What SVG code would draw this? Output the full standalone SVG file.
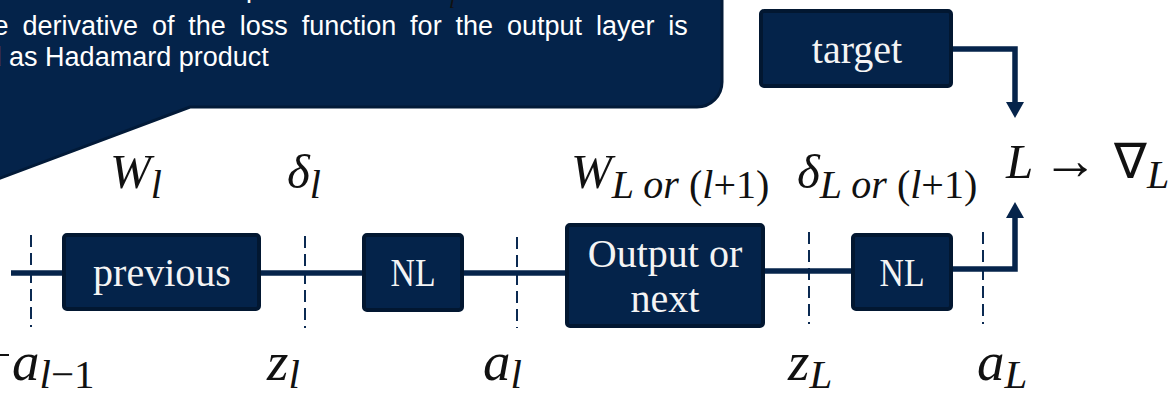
<svg xmlns="http://www.w3.org/2000/svg" width="1173" height="394" viewBox="0 0 1173 394">
  <style>
    .box { fill: #04234a; stroke: #021731; stroke-width: 4; }
    .boxtext { font-family: "Liberation Serif", serif; font-size: 40px; fill: #f4f4f4; text-anchor: middle; }
    .wire { fill: none; stroke: #06244b; stroke-width: 5.5; }
    .tick { fill: none; stroke: #0b2a52; stroke-width: 2; stroke-dasharray: 12 6; }
    .note { font-family: "Liberation Sans", Arial, sans-serif; font-size: 27px; fill: #ffffff; }
    .mi { font-family: "Liberation Serif", serif; font-style: italic; fill: #111111; }
    .up { font-style: normal; }
    .big { font-size: 49px; }
    .sub { font-size: 40px; }
    .low { font-size: 55px; }
    .lowsub { font-size: 41px; }
  </style>
  <defs>
    <marker id="arrow" markerUnits="userSpaceOnUse" viewBox="0 0 16 18" markerWidth="16" markerHeight="18" refX="1" refY="9" orient="auto">
      <path d="M0,0 L16,9 L0,18 z" fill="#06244b"/>
    </marker>
  </defs>

  <rect width="1173" height="394" fill="#ffffff"/>

  <!-- callout with pointer tail -->
  <g id="callout">
    <path d="M-10,-10 H722 V82 A25,25 0 0 1 697,107 H190 L-10,182 Z" fill="#04234a" stroke="#021a38" stroke-width="3"/>
    <text class="note" x="246" y="-3">p</text>
    <text class="mi" x="449" y="8" font-size="22" fill="#ffffff">l</text>
    <text class="note" x="-38" y="35" word-spacing="6.4">The derivative of the loss function for the output layer is</text>
    <text class="note" x="-87" y="66">defined as Hadamard product</text>
  </g>

  <!-- layer boundaries -->
  <g id="ticks">
    <line class="tick" x1="31" y1="235" x2="31" y2="327"/>
    <line class="tick" x1="305" y1="236" x2="305" y2="328"/>
    <line class="tick" x1="517" y1="237" x2="517" y2="328"/>
    <line class="tick" x1="809" y1="232" x2="809" y2="324"/>
    <line class="tick" x1="983" y1="232" x2="983" y2="324"/>
  </g>

  <!-- connectors -->
  <g id="connectors">
    <path class="wire" d="M11,273 H62"/>
    <path class="wire" d="M261,273 H362"/>
    <path class="wire" d="M464,273 H565"/>
    <path class="wire" d="M765,271 H851"/>
    <path class="wire" d="M953,269 H1015 V217" stroke-linejoin="miter" marker-end="url(#arrow)"/>
    <path class="wire" d="M953,49 H1015 V103" stroke-linejoin="miter" marker-end="url(#arrow)"/>
  </g>

  <g id="previous">
    <rect class="box" x="64" y="235" width="195" height="74" rx="3"/>
    <text class="boxtext" x="162" y="286">previous</text>
  </g>
  <g id="nl1">
    <rect class="box" x="364" y="235" width="98" height="75" rx="3"/>
    <text class="boxtext" x="413" y="286" textLength="45" lengthAdjust="spacingAndGlyphs">NL</text>
  </g>
  <g id="output">
    <rect class="box" x="567" y="225" width="196" height="101" rx="3"/>
    <text class="boxtext" x="665" y="267">Output or</text>
    <text class="boxtext" x="665" y="312">next</text>
  </g>
  <g id="nl2">
    <rect class="box" x="853" y="235" width="98" height="74" rx="3"/>
    <text class="boxtext" x="902" y="286" textLength="45" lengthAdjust="spacingAndGlyphs">NL</text>
  </g>
  <g id="target">
    <rect class="box" x="761" y="11" width="190" height="75" rx="3"/>
    <text class="boxtext" x="857" y="63">target</text>
  </g>

  <!-- symbols above the chain -->
  <g id="labels-top">
    <text class="mi big" x="110" y="188">W<tspan class="sub" dy="10">l</tspan></text>
    <text class="mi big" x="287" y="188">δ<tspan class="sub" dy="10">l</tspan></text>
    <text class="mi big" x="571" y="188">W<tspan class="sub" dy="10">L or <tspan class="up">(</tspan>l<tspan class="up">+1)</tspan></tspan></text>
    <text class="mi big" x="797" y="188">δ<tspan class="sub" dy="10">L or <tspan class="up">(</tspan>l<tspan class="up">+1)</tspan></tspan></text>
    <text class="mi big" x="1006" y="178">L</text>
    <text class="mi up" x="1042" y="179" font-size="56">→</text>
    <text class="mi big up" x="1114" y="178">∇<tspan class="mi sub" dy="10">L</tspan></text>
  </g>

  <!-- symbols below the chain -->
  <g id="labels-bottom">
    <line x1="0" y1="355" x2="9" y2="355" stroke="#111111" stroke-width="2"/>
    <text class="mi low" x="12" y="380">a<tspan class="lowsub" dy="8">l<tspan class="up">−1</tspan></tspan></text>
    <text class="mi low" x="267" y="380">z<tspan class="lowsub" dy="8">l</tspan></text>
    <text class="mi low" x="483" y="380">a<tspan class="lowsub" dy="8">l</tspan></text>
    <text class="mi low" x="788" y="380">z<tspan class="lowsub" dy="8">L</tspan></text>
    <text class="mi low" x="977" y="380">a<tspan class="lowsub" dy="8">L</tspan></text>
  </g>
</svg>
